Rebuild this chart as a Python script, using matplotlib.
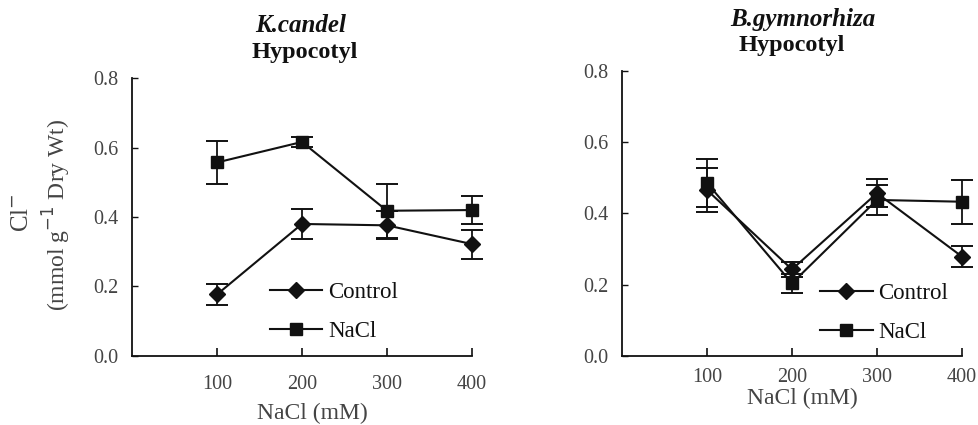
import matplotlib
matplotlib.use("Agg")
import matplotlib.pyplot as plt
from matplotlib.lines import Line2D

plt.rcParams['font.family'] = ['Liberation Serif', 'DejaVu Serif']

nacl_mm = [100, 200, 300, 400]
x_ticks = [100, 200, 300, 400]
y_ticks = [0.0, 0.2, 0.4, 0.6, 0.8]
y_ticklabels = ["0.0", "0.2", "0.4", "0.6", "0.8"]

# K. candel hypocotyl
kc_control = [0.177, 0.380, 0.376, 0.322]
kc_control_err = [0.030, 0.044, 0.040, 0.042]
kc_nacl = [0.557, 0.616, 0.418, 0.420]
kc_nacl_err = [0.063, 0.015, 0.078, 0.040]

# B. gymnorhiza hypocotyl
bg_control = [0.466, 0.243, 0.457, 0.279]
bg_control_err = [0.063, 0.020, 0.040, 0.030]
bg_nacl = [0.486, 0.204, 0.438, 0.433]
bg_nacl_err = [0.068, 0.026, 0.042, 0.062]

species = ["K.candel", "B.gymnorhiza"]
tissue = "Hypocotyl"
series_labels = ["Control", "NaCl"]

ink = "#111111"
grey = "#444444"

fig = plt.figure(figsize=(9.79, 4.25), dpi=100)
ax1 = fig.add_axes([0.1348, 0.1624, 0.3473, 0.654])
ax2 = fig.add_axes([0.6353, 0.1624, 0.3473, 0.6706])

marker_style = {
    series_labels[0]: dict(marker='D', markersize=8),
    series_labels[1]: dict(marker='s', markersize=8),
}


def panel(ax, ctrl, ctrl_err, salt, salt_err, legend_xy, tick_pad, xlabel_pad):
    for vals, errs, lab in ((ctrl, ctrl_err, series_labels[0]),
                            (salt, salt_err, series_labels[1])):
        ax.errorbar(nacl_mm, vals, yerr=errs, color=ink, lw=1.5,
                    capsize=8, capthick=1.4, elinewidth=1.3, zorder=3,
                    clip_on=False, **marker_style[lab])
    ax.set_xlim(0, 400)
    ax.set_ylim(0, 0.8)
    ax.set_xticks(x_ticks)
    ax.set_xticklabels([str(v) for v in x_ticks])
    ax.set_yticks(y_ticks)
    ax.set_yticklabels(y_ticklabels)
    for s in ('top', 'right'):
        ax.spines[s].set_visible(False)
    for s in ('left', 'bottom'):
        ax.spines[s].set_linewidth(1.3)
        ax.spines[s].set_color(ink)
    ax.tick_params(axis='x', direction='in', length=6, width=1.2,
                   labelsize=14.5, labelcolor=grey, pad=tick_pad, color=ink)
    ax.tick_params(axis='y', direction='in', length=4, width=1.0,
                   labelsize=14.5, labelcolor=grey, pad=10, color=ink)
    ax.set_xlabel("NaCl (mM)", fontsize=17, color=grey, labelpad=xlabel_pad)
    ax.xaxis.label.set_x(0.53)
    handles = [Line2D([], [], color=ink, lw=1.5, **marker_style[lab])
               for lab in series_labels]
    leg = ax.legend(handles, series_labels, loc='upper left',
                    bbox_to_anchor=legend_xy, frameon=False, fontsize=16.5,
                    handlelength=2.3, handletextpad=0.25, labelspacing=0.8,
                    borderaxespad=0, borderpad=0)
    for t in leg.get_texts():
        t.set_color(ink)


panel(ax1, kc_control, kc_control_err, kc_nacl, kc_nacl_err, (0.405, 0.267),
      tick_pad=14, xlabel_pad=6)
panel(ax2, bg_control, bg_control_err, bg_nacl, bg_nacl_err, (0.582, 0.257),
      tick_pad=9, xlabel_pad=0)

# species and tissue headings
fig.text(0.307, 0.94, species[0], ha='center', va='center', fontsize=18,
         fontweight='bold', fontstyle='italic', color=ink)
fig.text(0.311, 0.877, tissue, ha='center', va='center', fontsize=17.5,
         fontweight='bold', color=ink)
fig.text(0.820, 0.955, species[1], ha='center', va='center', fontsize=18,
         fontweight='bold', fontstyle='italic', color=ink)
fig.text(0.809, 0.894, tissue, ha='center', va='center', fontsize=17.5,
         fontweight='bold', color=ink)

# y-axis label, two lines
fig.text(0.0225, 0.50, r"Cl$^{-}$", rotation=90, ha='center', va='center',
         fontsize=18, color=grey)
fig.text(0.058, 0.494, r"(mmol g$^{-1}$ Dry Wt)", rotation=90, ha='center',
         va='center', fontsize=17, color=grey)

fig.savefig("out.png", dpi=100)
